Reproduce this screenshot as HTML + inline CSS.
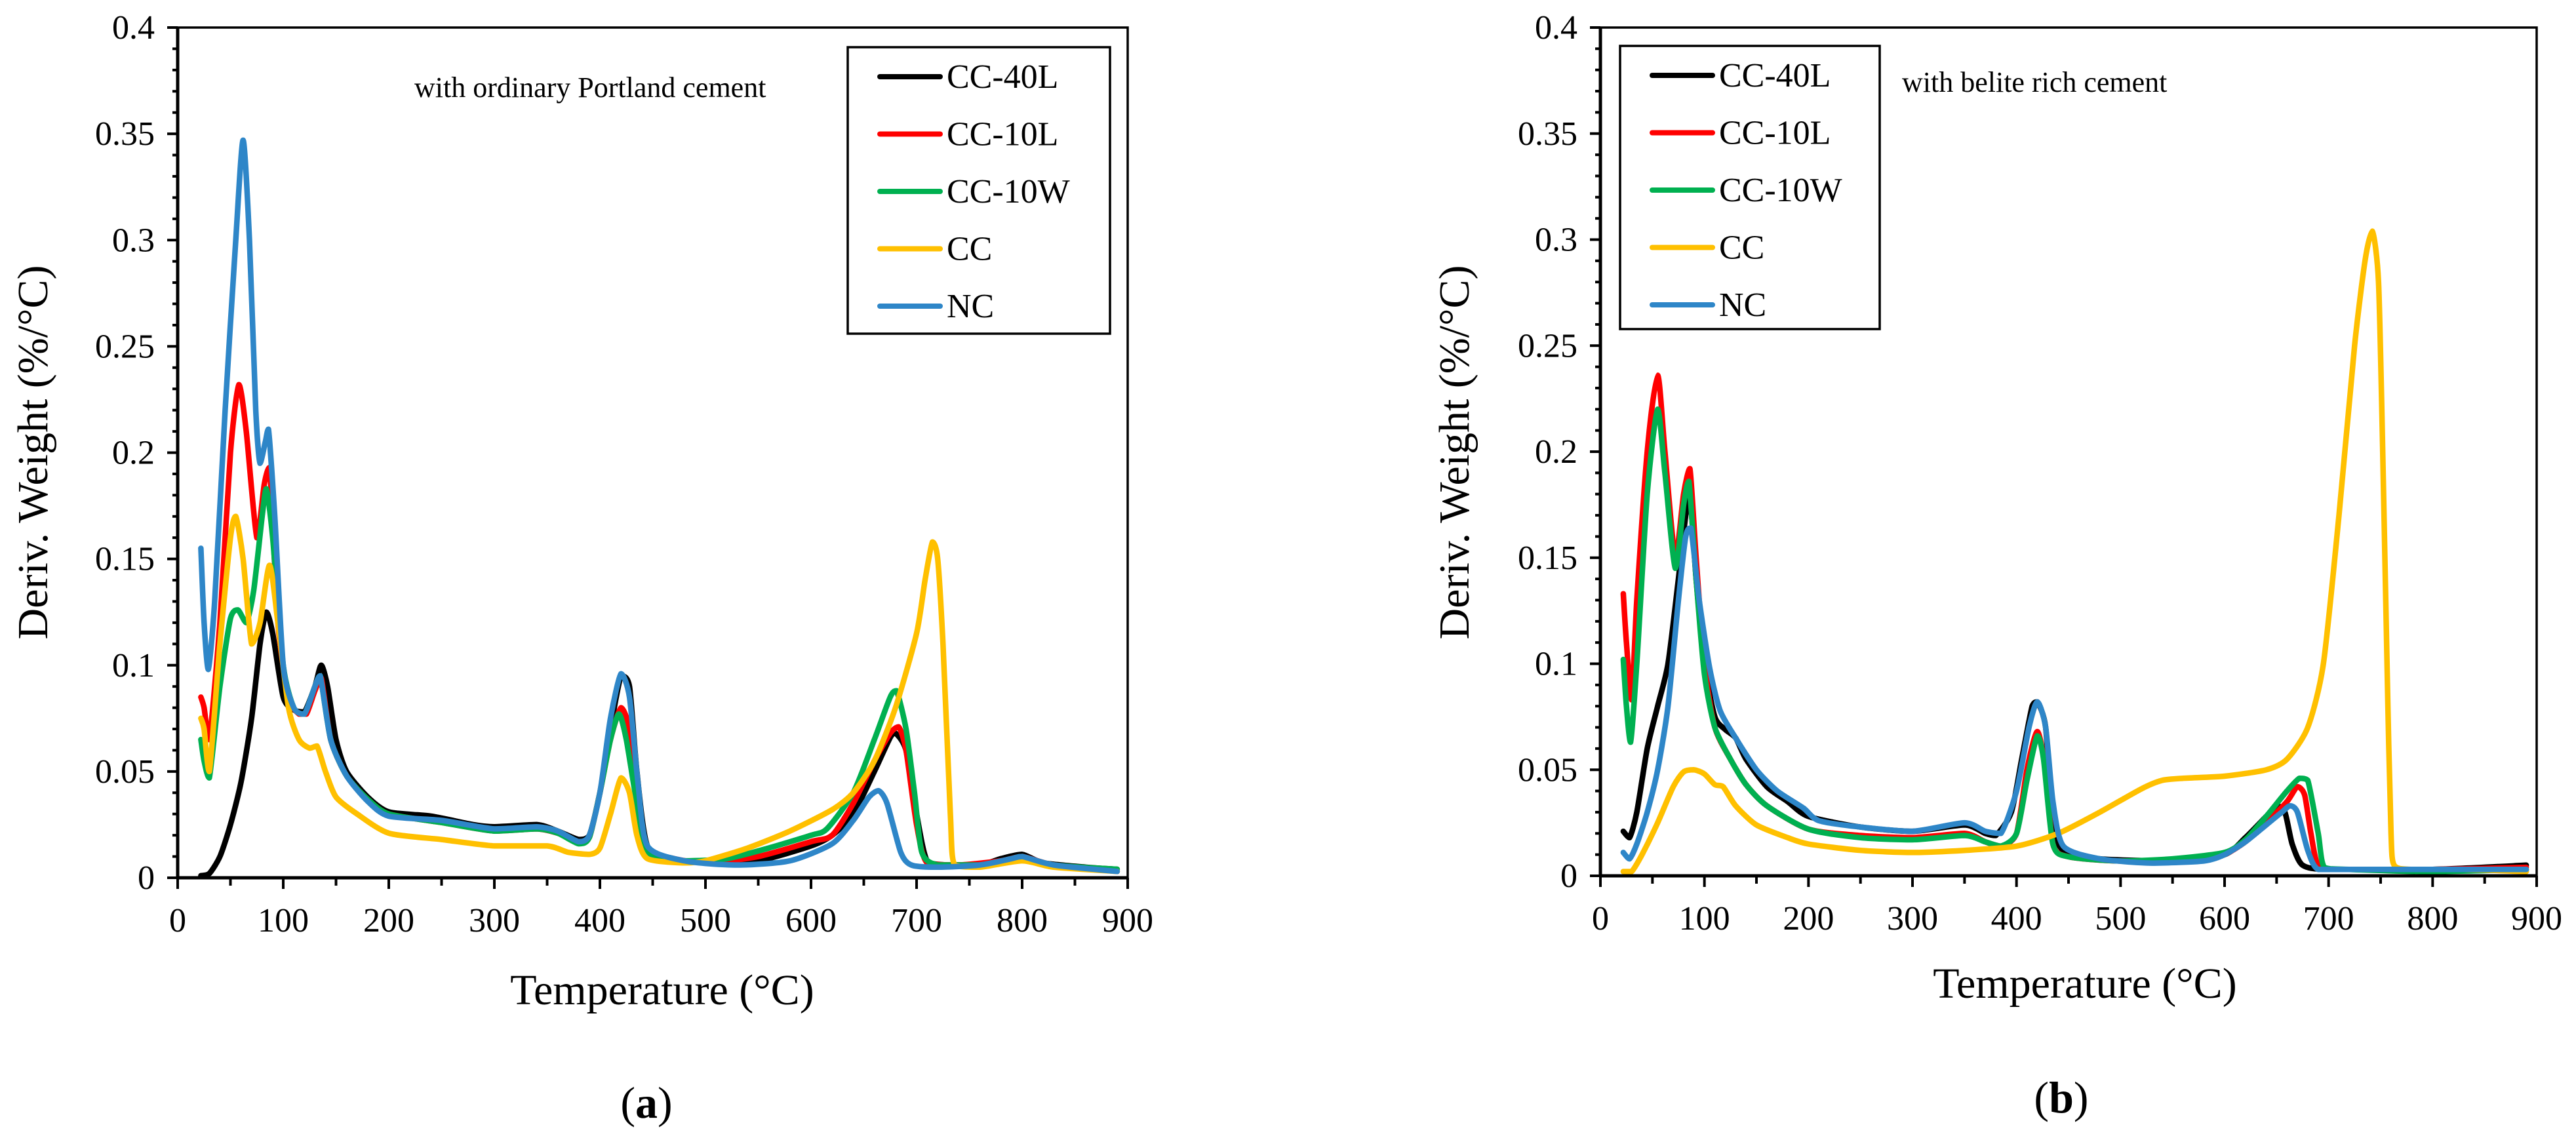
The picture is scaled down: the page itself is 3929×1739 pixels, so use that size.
<!DOCTYPE html>
<html><head><meta charset="utf-8"><style>
html,body{margin:0;padding:0;background:#fff;}
svg{display:block;}
text{font-family:"Liberation Serif",serif;fill:#000;}
</style></head>
<body>
<svg id="svg" width="3929" height="1739" viewBox="0 0 3929 1739" xmlns="http://www.w3.org/2000/svg"></svg>
<script>
const seriesNames = ["CC-40L","CC-10L","CC-10W","CC","NC"];
const seriesColors = ["#000000","#ff0000","#00b050","#ffc000","#2e86c8"];
const xTicks = [0,100,200,300,400,500,600,700,800,900];
const yTicks = [0,0.05,0.1,0.15,0.2,0.25,0.3,0.35,0.4];
const yTickLabels = ["0","0.05","0.1","0.15","0.2","0.25","0.3","0.35","0.4"];

// Panel (a) data [temperature, value]
const a_CC40L = [[22,0.001],[30,0.002],[40,0.01],[50,0.025],[60,0.045],[70,0.075],[78,0.11],[84,0.125],[90,0.115],[100,0.085],[110,0.079],[120,0.078],[130,0.09],[136,0.1],[142,0.09],[150,0.065],[160,0.05],[180,0.038],[200,0.031],[240,0.029],[280,0.025],[300,0.024],[340,0.025],[360,0.022],[380,0.018],[390,0.02],[400,0.04],[410,0.07],[420,0.095],[428,0.09],[435,0.05],[445,0.015],[470,0.009],[500,0.007],[550,0.008],[600,0.015],[620,0.02],[640,0.03],[660,0.05],[675,0.066],[680,0.068],[690,0.06],[700,0.03],[710,0.008],[730,0.006],[760,0.006],[780,0.009],[800,0.011],[820,0.007],[860,0.005],[890,0.004]];
const a_CC10L = [[22,0.085],[25,0.08],[30,0.065],[40,0.12],[50,0.2],[58,0.232],[65,0.21],[75,0.16],[82,0.185],[87,0.193],[95,0.12],[105,0.085],[115,0.077],[122,0.077],[130,0.088],[136,0.094],[145,0.065],[160,0.048],[180,0.037],[200,0.03],[250,0.026],[300,0.022],[340,0.023],[360,0.021],[380,0.017],[390,0.019],[400,0.04],[410,0.065],[420,0.08],[428,0.07],[435,0.04],[445,0.013],[470,0.009],[500,0.007],[550,0.01],[600,0.017],[620,0.02],[640,0.035],[660,0.055],[675,0.068],[683,0.071],[690,0.06],[700,0.025],[710,0.007],[740,0.006],[780,0.008],[800,0.01],[830,0.006],[890,0.003]];
const a_CC10W = [[22,0.065],[25,0.055],[30,0.047],[40,0.09],[50,0.122],[57,0.126],[65,0.12],[72,0.135],[80,0.17],[84,0.183],[90,0.16],[100,0.1],[110,0.08],[120,0.077],[130,0.09],[135,0.095],[145,0.065],[160,0.048],[180,0.037],[200,0.03],[250,0.026],[300,0.022],[340,0.023],[360,0.021],[380,0.016],[390,0.019],[400,0.04],[410,0.065],[418,0.077],[425,0.065],[435,0.035],[445,0.012],[480,0.008],[520,0.009],[560,0.014],[600,0.02],[615,0.023],[640,0.04],[660,0.065],[675,0.085],[681,0.088],[690,0.07],[698,0.04],[705,0.012],[720,0.006],[760,0.006],[790,0.009],[800,0.01],[830,0.006],[890,0.004]];
const a_CC = [[22,0.075],[25,0.07],[30,0.05],[40,0.11],[50,0.16],[55,0.17],[62,0.15],[70,0.11],[78,0.12],[87,0.147],[95,0.12],[105,0.08],[115,0.065],[125,0.061],[132,0.062],[140,0.05],[150,0.038],[170,0.03],[200,0.021],[250,0.018],[300,0.015],[350,0.015],[370,0.012],[390,0.011],[400,0.014],[410,0.03],[420,0.047],[428,0.04],[435,0.02],[445,0.009],[480,0.007],[500,0.008],[540,0.014],[580,0.022],[620,0.032],[640,0.04],[660,0.055],[680,0.08],[700,0.115],[708,0.14],[715,0.158],[720,0.15],[725,0.11],[732,0.03],[736,0.006],[760,0.005],[800,0.008],[830,0.005],[890,0.003]];
const a_NC = [[22,0.155],[25,0.12],[29,0.098],[35,0.13],[45,0.22],[55,0.3],[62,0.347],[68,0.3],[74,0.22],[78,0.195],[83,0.205],[86,0.211],[92,0.17],[100,0.1],[110,0.08],[120,0.077],[130,0.09],[135,0.095],[145,0.065],[160,0.048],[180,0.036],[200,0.029],[250,0.027],[300,0.023],[340,0.024],[360,0.022],[380,0.017],[390,0.02],[400,0.04],[410,0.075],[420,0.096],[428,0.085],[436,0.045],[445,0.015],[480,0.008],[530,0.006],[580,0.008],[620,0.016],[640,0.027],[655,0.038],[664,0.041],[672,0.035],[685,0.012],[695,0.006],[720,0.005],[760,0.006],[790,0.009],[800,0.01],[830,0.006],[890,0.003]];

// Panel (b) data
const b_CC40L = [[22,0.021],[28,0.018],[35,0.03],[45,0.06],[55,0.08],[65,0.1],[75,0.14],[82,0.17],[86,0.18],[92,0.14],[100,0.1],[110,0.075],[120,0.069],[130,0.065],[140,0.055],[160,0.042],[180,0.035],[200,0.028],[250,0.023],[300,0.021],[350,0.024],[370,0.02],[380,0.019],[395,0.03],[405,0.055],[415,0.08],[420,0.082],[428,0.07],[435,0.025],[445,0.012],[480,0.008],[550,0.007],[600,0.01],[620,0.018],[640,0.028],[650,0.033],[658,0.03],[665,0.015],[675,0.005],[700,0.003],[800,0.003],[890,0.005]];
const b_CC10L = [[22,0.133],[25,0.11],[30,0.083],[35,0.13],[45,0.2],[55,0.236],[62,0.2],[72,0.15],[80,0.18],[86,0.192],[92,0.15],[100,0.1],[110,0.07],[125,0.055],[140,0.043],[160,0.033],[200,0.022],[250,0.019],[300,0.018],[350,0.02],[370,0.016],[385,0.014],[400,0.02],[410,0.05],[420,0.068],[428,0.05],[435,0.015],[450,0.009],[500,0.007],[580,0.008],[600,0.01],[620,0.016],[640,0.025],[660,0.035],[670,0.042],[677,0.038],[683,0.02],[690,0.005],[710,0.003],[800,0.003],[890,0.004]];
const b_CC10W = [[22,0.102],[25,0.08],[29,0.063],[35,0.1],[45,0.18],[55,0.22],[62,0.19],[72,0.145],[80,0.175],[85,0.186],[92,0.14],[100,0.095],[110,0.07],[125,0.055],[140,0.043],[160,0.033],[200,0.022],[250,0.018],[300,0.017],[350,0.019],[370,0.016],[385,0.014],[400,0.02],[410,0.045],[420,0.066],[426,0.055],[435,0.015],[450,0.009],[500,0.007],[550,0.008],[600,0.011],[620,0.017],[640,0.028],[660,0.04],[672,0.046],[680,0.045],[690,0.02],[696,0.004],[720,0.003],[800,0.002],[890,0.003]];
const b_CC = [[22,0.002],[30,0.002],[40,0.01],[55,0.025],[70,0.042],[80,0.049],[90,0.05],[100,0.048],[110,0.043],[118,0.042],[130,0.033],[150,0.024],[180,0.018],[200,0.015],[250,0.012],[300,0.011],[350,0.012],[400,0.014],[440,0.02],[480,0.03],[520,0.041],[540,0.045],[560,0.046],[600,0.047],[640,0.05],[660,0.055],[680,0.07],[695,0.1],[710,0.17],[725,0.25],[735,0.29],[742,0.304],[748,0.28],[752,0.2],[757,0.08],[760,0.02],[763,0.005],[780,0.003],[830,0.003],[890,0.002]];
const b_NC = [[22,0.011],[28,0.008],[35,0.015],[45,0.03],[55,0.05],[65,0.08],[75,0.13],[82,0.16],[87,0.164],[95,0.13],[105,0.098],[115,0.078],[130,0.065],[150,0.05],[170,0.04],[195,0.032],[210,0.026],[250,0.023],[300,0.021],[350,0.025],[370,0.021],[385,0.02],[400,0.04],[412,0.07],[420,0.082],[428,0.07],[435,0.035],[445,0.014],[480,0.008],[530,0.006],[580,0.007],[600,0.01],[620,0.016],[640,0.024],[655,0.03],[663,0.033],[670,0.03],[680,0.012],[690,0.003],[720,0.003],[800,0.003],[890,0.003]];

const NS="http://www.w3.org/2000/svg";
const svg=document.getElementById('svg');
function mk(tag,attrs,parent){const e=document.createElementNS(NS,tag);for(const k in attrs)e.setAttribute(k,attrs[k]);(parent||svg).appendChild(e);return e;}

// smooth path (Catmull-Rom -> Bezier, with clamped control points)
function smoothPath(pts){
  let d='M'+pts[0][0].toFixed(1)+','+pts[0][1].toFixed(1);
  const t=0.12;
  for(let i=0;i<pts.length-1;i++){
    const p0=pts[Math.max(0,i-1)],p1=pts[i],p2=pts[i+1],p3=pts[Math.min(pts.length-1,i+2)];
    let c1y=p1[1]+(p2[1]-p0[1])*t, c2y=p2[1]-(p3[1]-p1[1])*t;
    const lo=Math.min(p1[1],p2[1]),hi=Math.max(p1[1],p2[1]);
    c1y=Math.min(hi,Math.max(lo,c1y));c2y=Math.min(hi,Math.max(lo,c2y));
    const c1x=p1[0]+(p2[0]-p0[0])*t, c2x=p2[0]-(p3[0]-p1[0])*t;
    d+=' C'+c1x.toFixed(1)+','+c1y.toFixed(1)+' '+c2x.toFixed(1)+','+c2y.toFixed(1)+' '+p2[0].toFixed(1)+','+p2[1].toFixed(1);
  }
  return d;
}

function panel(cfg){
  const g=mk('g',{});
  
  
  const X=v=>cfg.x0+(cfg.x1-cfg.x0)*v/900;
  const Y=v=>cfg.y0-(cfg.y0-cfg.y1)*v/0.4;
  [0,1,2,3,4].forEach(i=>{
    const pts=cfg.data[i].map(p=>[X(p[0]),Y(p[1])]);
    const p=mk('path',{d:smoothPath(pts),fill:'none',stroke:seriesColors[i],'stroke-width':8.5,'stroke-linejoin':'round','stroke-linecap':'round'},g);
    
    
  });
  const fr=mk('rect',{x:cfg.x0,y:cfg.y1,width:cfg.x1-cfg.x0,height:cfg.y0-cfg.y1,fill:'none',stroke:'#000','stroke-width':3.5},g);
  
  
  mk('line',{x1:cfg.x0,y1:cfg.y1,x2:cfg.x0,y2:cfg.y0+2,stroke:'#000','stroke-width':5},g);
  mk('line',{x1:cfg.x0-2,y1:cfg.y0,x2:cfg.x1,y2:cfg.y0,stroke:'#000','stroke-width':5},g);
  for(let v=0;v<=900;v+=50){
    const major=v%100===0;
    mk('line',{x1:X(v),y1:cfg.y0,x2:X(v),y2:cfg.y0+(major?17:12),stroke:'#000','stroke-width':4},g);
  }
  xTicks.forEach(v=>{
    const t=mk('text',{x:X(v),y:cfg.y0+82,'font-size':52,'text-anchor':'middle'},g);
    t.textContent=String(v);
    
    
  });
  for(let k=0;k<=40;k++){
    const v=k*0.01;const major=k%5===0;
    mk('line',{x1:cfg.x0-(major?16:8),y1:Y(v),x2:cfg.x0,y2:Y(v),stroke:'#000','stroke-width':4},g);
  }
  yTicks.forEach((v,i)=>{
    const t=mk('text',{x:cfg.x0-35,y:Y(v)+17,'font-size':52,'text-anchor':'end'},g);
    t.textContent=yTickLabels[i];
    
    
  });
  const xt=mk('text',{x:cfg.xtx,y:cfg.xty,'font-size':66,'text-anchor':'middle'},g);
  xt.textContent='Temperature (°C)';
  
  
  const yt=mk('text',{x:0,y:0,'font-size':66,'text-anchor':'middle',transform:'translate('+cfg.ytx+',690) rotate(-90)'},g);
  yt.textContent='Deriv. Weight (%/°C)';
  
  
  const an=mk('text',{x:cfg.anx,y:cfg.any,'font-size':44},g);
  an.textContent=cfg.note;
  
  
  const lab=mk('text',{x:cfg.labx,y:cfg.laby,'font-size':68,'text-anchor':'middle'},g);
  lab.innerHTML='(<tspan font-weight="bold">'+cfg.id+'</tspan>)';
  
  
  const lg=mk('g',{},g);
  
  
  mk('rect',{x:cfg.lx,y:cfg.ly,width:cfg.lw,height:cfg.lh,fill:'#fff',stroke:'#000','stroke-width':3.5},lg);
  seriesNames.forEach((n,i)=>{
    const ey=cfg.ly+45+i*87.5;
    const e=mk('g',{},lg);
    
    
    mk('line',{x1:cfg.lx+49,y1:ey,x2:cfg.lx+141,y2:ey,stroke:seriesColors[i],'stroke-width':8,'stroke-linecap':'round'},e);
    const t=mk('text',{x:cfg.lx+151,y:ey+17,'font-size':52},e);
    t.textContent=n;
  });
}

panel({id:'a',x0:271,x1:1720,y0:1339,y1:42,data:[a_CC40L,a_CC10L,a_CC10W,a_CC,a_NC],
  xtx:1010,xty:1532,ytx:72,anx:632,any:148,note:'with ordinary Portland cement',labx:986,laby:1705,
  lx:1293,ly:72,lw:400,lh:437});
panel({id:'b',x0:2441,x1:3869,y0:1336,y1:42,data:[b_CC40L,b_CC10L,b_CC10W,b_CC,b_NC],
  xtx:3180,xty:1522,ytx:2240,anx:2901,any:140,note:'with belite rich cement',labx:3144,laby:1697,
  lx:2471,ly:70,lw:396,lh:432});
</script>
</body></html>
